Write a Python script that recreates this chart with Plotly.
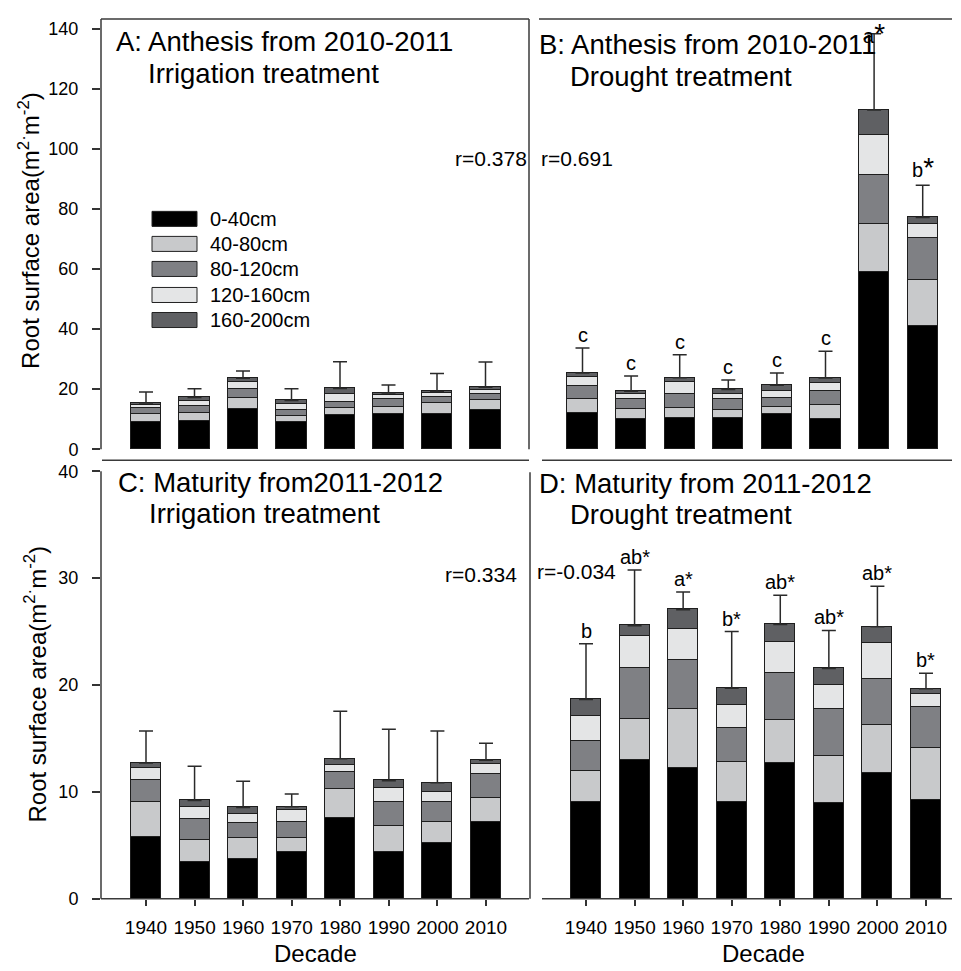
import numpy as np
import plotly.graph_objects as go

# Pixel targets below are in reference-image pixels; fx/fy convert them
# to paper fractions (the vertical mapping was calibrated against
# previous renders of this page).
W, H = 945, 968
OX = 9.0              # horizontal offset of the figure in the picture
OY, SY = 17.4, 0.978  # vertical: picture_y = OY + SY * figure_y
FONT = "Liberation Sans, Arial, sans-serif"


def fx(p):
    return (p - OX) / W


def fy(t):
    return 1 - ((t - OY) / SY) / H


decades = ["1940", "1950", "1960", "1970", "1980", "1990", "2000", "2010"]
layer_names = ["0-40cm", "40-80cm", "80-120cm", "120-160cm", "160-200cm"]
layer_colors = ["#000000", "#c8c9cb", "#7f8084", "#e4e5e6", "#5f6063"]

# Panel A: Anthesis 2010-2011, irrigation
a_0_40 = [9.0, 9.3, 13.2, 9.1, 11.2, 11.8, 11.6, 12.9]
a_40_80 = [2.8, 2.8, 3.9, 1.9, 2.6, 2.3, 3.6, 3.4]
a_80_120 = [2.0, 2.2, 3.0, 1.9, 2.0, 2.5, 2.2, 1.9]
a_120_160 = [1.0, 1.8, 2.2, 2.0, 2.4, 1.4, 1.2, 1.4]
a_160_200 = [0.6, 1.1, 1.3, 1.3, 2.0, 0.7, 0.6, 1.0]
a_err = [3.6, 2.9, 2.4, 3.9, 8.9, 2.7, 6.0, 8.4]

# Panel B: Anthesis 2010-2011, drought
b_0_40 = [12.1, 10.1, 10.4, 10.2, 11.6, 10.1, 58.8, 41.0]
b_40_80 = [4.5, 3.1, 3.4, 2.8, 2.5, 4.5, 16.1, 15.2]
b_80_120 = [4.3, 3.4, 4.4, 3.6, 3.0, 4.7, 16.5, 14.2]
b_120_160 = [3.1, 1.6, 4.0, 1.7, 2.2, 2.6, 13.2, 4.5]
b_160_200 = [1.4, 1.1, 1.6, 1.6, 2.0, 1.8, 8.3, 2.2]
b_err = [8.3, 5.1, 7.6, 3.1, 4.1, 8.9, 25.4, 10.8]
b_letters = ["c", "c", "c", "c", "c", "c", "a*", "b*"]

# Panel C: Maturity 2011-2012, irrigation
c_0_40 = [5.8, 3.4, 3.7, 4.35, 7.5, 4.35, 5.2, 7.15]
c_40_80 = [3.2, 2.1, 2.0, 1.35, 2.75, 2.4, 2.0, 2.25]
c_80_120 = [2.1, 1.9, 1.35, 1.45, 1.55, 2.25, 1.8, 2.25]
c_120_160 = [1.1, 1.2, 0.9, 1.15, 0.7, 1.35, 1.0, 0.95]
c_160_200 = [0.5, 0.6, 0.6, 0.3, 0.6, 0.7, 0.85, 0.35]
c_err = [3.0, 3.2, 2.45, 1.2, 4.45, 4.8, 4.85, 1.6]

# Panel D: Maturity 2011-2012, drought
d_0_40 = [9.0, 13.0, 12.2, 9.0, 12.65, 8.95, 11.75, 9.2]
d_40_80 = [2.95, 3.8, 5.55, 3.8, 4.1, 4.35, 4.45, 4.9]
d_80_120 = [2.75, 4.75, 4.55, 3.15, 4.4, 4.4, 4.35, 3.8]
d_120_160 = [2.4, 3.05, 2.95, 2.2, 2.9, 2.3, 3.4, 1.2]
d_160_200 = [1.55, 0.95, 1.8, 1.55, 1.6, 1.55, 1.5, 0.55]
d_err = [5.2, 5.2, 1.65, 5.3, 2.75, 3.55, 3.8, 1.45]
d_letters = ["b", "ab*", "a*", "b*", "ab*", "ab*", "ab*", "b*"]

r_values = {"A": "r=0.378", "B": "r=0.691", "C": "r=0.334", "D": "r=-0.034"}
titles = {
    "A": ["A: Anthesis from 2010-2011", "Irrigation treatment"],
    "B": ["B: Anthesis from 2010-2011", "Drought treatment"],
    "C": ["C: Maturity from2011-2012", "Irrigation treatment"],
    "D": ["D: Maturity from 2011-2012", "Drought treatment"],
}
y_title = "Root surface area(m<sup>2·</sup>m<sup>-2</sup>)"
x_title = "Decade"
top_ticks = [0, 20, 40, 60, 80, 100, 120, 140]
bottom_ticks = [0, 10, 20, 30, 40]

panels = [
    ("A", "", [a_0_40, a_40_80, a_80_120, a_120_160, a_160_200], a_err, None),
    ("B", "2", [b_0_40, b_40_80, b_80_120, b_120_160, b_160_200], b_err, b_letters),
    ("C", "3", [c_0_40, c_40_80, c_80_120, c_120_160, c_160_200], c_err, None),
    ("D", "4", [d_0_40, d_40_80, d_80_120, d_120_160, d_160_200], d_err, d_letters),
]

fig = go.Figure()
annotations = []
for key, s, layers, err, letters in panels:
    for name, col, vals in zip(layer_names, layer_colors, layers):
        fig.add_trace(go.Bar(
            x=decades, y=vals, name=name, xaxis="x" + s, yaxis="y" + s,
            width=0.62, showlegend=False,
            marker=dict(color=col, line=dict(color="#1e1e1e", width=1)),
        ))
    totals = np.sum(np.array(layers), axis=0)
    fig.add_trace(go.Scatter(
        x=decades, y=totals, mode="markers", xaxis="x" + s, yaxis="y" + s,
        marker=dict(size=1, opacity=0), showlegend=False, hoverinfo="skip",
        error_y=dict(type="data", symmetric=False, array=err,
                     arrayminus=[0] * len(err), width=7, thickness=1.5,
                     color="#2a2a2a"),
    ))
    if letters:
        for i, (t, e, lab) in enumerate(zip(totals, err, letters)):
            top = float(t + e)
            ya = "bottom"
            txt = lab
            if key == "B":
                txt = lab.replace("*", "<span style='font-size:28px'>*</span>")
                if top > 130:
                    ya = "middle"
            annotations.append(dict(
                x=i, y=top, xref="x" + s, yref="y" + s, text=txt,
                showarrow=False, yanchor=ya, xanchor="center",
                font=dict(size=20, family=FONT, color="#000"),
            ))

# top panels: 0 at y=448, 3 px per unit; plot top kept inside the figure
TOP_T = 18.5
top_range = [0, (448 - TOP_T) / 3]
common = dict(showgrid=False, zeroline=False, showline=False)
tick_common = dict(ticks="outside", tickwidth=1.5, tickcolor="#333")
fig.update_layout(
    xaxis=dict(domain=[fx(102), fx(530)], type="category",
               range=[(102 - 147) / 48.5, (530 - 147) / 48.5],
               showticklabels=False, ticks="", anchor="y", **common),
    yaxis=dict(domain=[fy(448), fy(TOP_T)], range=top_range,
               tickvals=top_ticks, ticklen=8, ticklabelstandoff=10,
               tickfont=dict(size=18, family=FONT, color="#000"),
               anchor="x", **tick_common, **common),
    xaxis2=dict(domain=[fx(531), fx(953)], type="category",
                range=[(531 - 583.5) / 48.6, (953 - 583.5) / 48.6],
                showticklabels=False, ticks="", anchor="y2", **common),
    yaxis2=dict(domain=[fy(448), fy(TOP_T)], range=top_range,
                showticklabels=False, ticks="", anchor="x2", **common),
    xaxis3=dict(domain=[fx(102), fx(530)], type="category",
                range=[(102 - 147) / 48.57, (530 - 147) / 48.57],
                ticklen=6, ticklabelstandoff=5,
                tickfont=dict(size=19, family=FONT, color="#000"),
                anchor="y3", **tick_common, **common),
    yaxis3=dict(domain=[fy(897), fy(470)], range=[0, 40],
                tickvals=bottom_ticks, ticklen=8, ticklabelstandoff=10,
                tickfont=dict(size=18, family=FONT, color="#000"),
                anchor="x3", **tick_common, **common),
    xaxis4=dict(domain=[fx(531), fx(953)], type="category",
                range=[(531 - 587) / 48.57, (953 - 587) / 48.57],
                ticklen=6, ticklabelstandoff=5,
                tickfont=dict(size=19, family=FONT, color="#000"),
                anchor="y4", **tick_common, **common),
    yaxis4=dict(domain=[fy(897), fy(470)], range=[0, 40],
                showticklabels=False, ticks="", anchor="x4", **common),
)

# frame lines
LC = "#3a3a3a"
segs = [
    (102, TOP_T, 530, TOP_T), (102, TOP_T, 102, 448), (530, TOP_T, 530, 448),
    (103, 459, 530, 459), (540, TOP_T, 953, TOP_T), (543, 459, 953, 459),
    (102, 470, 102, 897), (102, 897, 530, 897), (531, 471, 531, 897),
    (543, 897, 953, 897),
]
shapes = []
for x0, y0, x1, y1 in segs:
    shapes.append(dict(type="line", xref="paper", yref="paper",
                       x0=fx(x0), y0=fy(y0), x1=fx(x1), y1=fy(y1),
                       line=dict(color=LC, width=1.5)))

# legend (drawn inside panel A)
leg_rows = [218, 243, 268, 294, 319]
for name, col, yc in zip(layer_names, layer_colors, leg_rows):
    shapes.append(dict(type="rect", xref="paper", yref="paper",
                       x0=fx(153), x1=fx(198), y0=fy(yc + 7.5), y1=fy(yc - 7.5),
                       fillcolor=col, line=dict(color="#222", width=1)))
    annotations.append(dict(x=fx(209), y=fy(yc), xref="paper", yref="paper",
                            text=name, showarrow=False, xanchor="left",
                            yanchor="middle",
                            font=dict(size=20, family=FONT, color="#000")))

title_pos = {
    "A": [(115, 41), (147, 72.5)],
    "B": [(538, 44), (569, 76)],
    "C": [(117, 481), (148, 512)],
    "D": [(538, 482), (569, 513.5)],
}
for k, lines in titles.items():
    for txt, (px, py) in zip(lines, title_pos[k]):
        annotations.append(dict(x=fx(px), y=fy(py), xref="paper", yref="paper",
                                text=txt, showarrow=False, xanchor="left",
                                yanchor="middle",
                                font=dict(size=27.5, family=FONT, color="#000")))

r_pos = {"A": (492, 158), "B": (577.5, 158), "C": (481.5, 573), "D": (577.5, 570)}
for k, txt in r_values.items():
    px, py = r_pos[k]
    annotations.append(dict(x=fx(px), y=fy(py), xref="paper", yref="paper",
                            text=txt, showarrow=False, xanchor="center",
                            yanchor="middle",
                            font=dict(size=21, family=FONT, color="#000")))

for px, py in [(30, 230), (36, 683)]:
    annotations.append(dict(x=fx(px), y=fy(py), xref="paper", yref="paper",
                            text=y_title, showarrow=False, textangle=-90,
                            xanchor="center", yanchor="middle",
                            font=dict(size=24, family=FONT, color="#000")))
for px in [316, 764]:
    annotations.append(dict(x=fx(px), y=fy(952), xref="paper", yref="paper",
                            text=x_title, showarrow=False, xanchor="center",
                            yanchor="middle",
                            font=dict(size=24, family=FONT, color="#000")))

fig.update_layout(
    width=W, height=H, autosize=False,
    margin=dict(l=0, r=0, t=0, b=0),
    paper_bgcolor="white", plot_bgcolor="white",
    barmode="stack", bargap=0,
    showlegend=False,
    shapes=shapes, annotations=annotations,
    font=dict(family=FONT, color="#000"),
)

fig.write_html("out.html")
